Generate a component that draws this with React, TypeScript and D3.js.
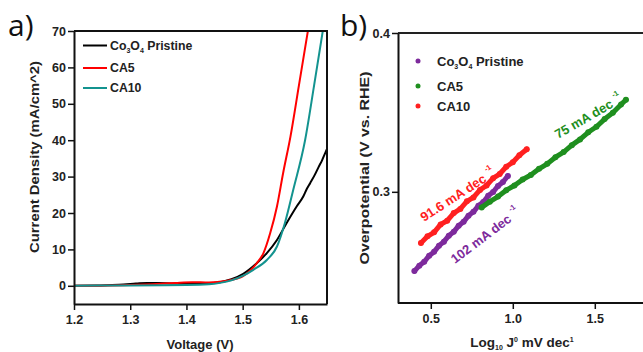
import React, { useRef, useEffect } from 'react';
import * as d3 from 'd3';

// a) LSV curves: [voltage (V), current density (mA/cm^2)]
const pristineLSV: [number, number][] = [
  [1.20, 0], [1.24, 0.05], [1.28, 0.3], [1.31, 0.6], [1.33, 0.8], [1.35, 0.75],
  [1.38, 0.6], [1.41, 0.55], [1.44, 0.7], [1.46, 1.0], [1.48, 1.8], [1.501, 3.3],
  [1.525, 6.2], [1.543, 9.0], [1.561, 12.6], [1.578, 17.2], [1.596, 21.8],
  [1.608, 24.6], [1.614, 26.6], [1.62, 28.2], [1.628, 30.4], [1.635, 32.6],
  [1.641, 34.4], [1.6466, 36.4], [1.65, 37.6],
];
const ca5LSV: [number, number][] = [
  [1.20, 0], [1.26, 0.05], [1.30, 0.2], [1.34, 0.45], [1.38, 0.8], [1.41, 1.0],
  [1.44, 0.9], [1.47, 1.3], [1.49, 2.0], [1.50, 2.6], [1.515, 4.4], [1.525, 6.2],
  [1.537, 9.0], [1.549, 14.5], [1.561, 21.8], [1.572, 31], [1.585, 41],
  [1.60, 55], [1.616, 70],
];
const ca10LSV: [number, number][] = [
  [1.20, 0], [1.30, 0.1], [1.40, 0.2], [1.44, 0.4], [1.46, 0.8], [1.48, 1.5],
  [1.501, 2.8], [1.519, 4.4], [1.543, 7.1], [1.561, 10.8], [1.575, 17.2],
  [1.59, 26.4], [1.611, 40], [1.627, 55], [1.6425, 70],
];
const voltageTicks = [1.2, 1.3, 1.4, 1.5, 1.6];
const currentTicks = [0, 10, 20, 30, 40, 50, 60, 70];

// b) Tafel plots: [log10 J, overpotential (V)]
const pristineTafel: [number, number][] = [
  [0.40, 0.2501], [0.43, 0.2535], [0.46, 0.2560], [0.49, 0.2598], [0.52, 0.2622],
  [0.55, 0.2661], [0.58, 0.2686], [0.61, 0.2724], [0.64, 0.2748], [0.67, 0.2787],
  [0.70, 0.2811], [0.73, 0.2850], [0.76, 0.2874], [0.79, 0.2912], [0.82, 0.2936],
  [0.85, 0.2975], [0.88, 0.2999], [0.91, 0.3037], [0.94, 0.3062], [0.97, 0.3100],
];
const ca5Tafel: [number, number][] = [
  [0.81, 0.2902], [0.86, 0.2938], [0.91, 0.2970], [0.96, 0.3010], [1.01, 0.3040],
  [1.06, 0.3078], [1.11, 0.3106], [1.16, 0.3145], [1.21, 0.3176], [1.26, 0.3218],
  [1.31, 0.3250], [1.36, 0.3294], [1.41, 0.3330], [1.46, 0.3375], [1.51, 0.3410],
  [1.56, 0.3458], [1.61, 0.3498], [1.66, 0.3550], [1.69, 0.3580],
];
const ca10Tafel: [number, number][] = [
  [0.44, 0.2678], [0.48, 0.2720], [0.52, 0.2745], [0.56, 0.2795], [0.60, 0.2818],
  [0.64, 0.2866], [0.68, 0.2892], [0.72, 0.2940], [0.76, 0.2965], [0.80, 0.3012],
  [0.84, 0.3040], [0.88, 0.3086], [0.92, 0.3112], [0.96, 0.3158], [1.00, 0.3186],
  [1.04, 0.3230], [1.085, 0.3268],
];
const logJTicks = [0.5, 1.0, 1.5];
const etaTicks = [0.3, 0.4];

const FONT = '"Liberation Sans", Arial, sans-serif';

const App = () => {
  const svgRef = useRef<SVGSVGElement>(null);

  useEffect(() => {
    const width = 643;
    const height = 352;
    const svg = d3.select(svgRef.current);
    svg.selectAll('*').remove();
    svg.attr('width', width).attr('height', height).attr('viewBox', [0, 0, width, height])
      .style('font-family', FONT);

    svg.append('rect').attr('width', width).attr('height', height).attr('fill', 'white');

    const styleAxis = (g: any) => {
      g.select('.domain').attr('stroke', '#111').attr('stroke-width', 2);
      g.selectAll('.tick line').attr('stroke', '#111').attr('stroke-width', 1.5);
      g.selectAll('text').attr('fill', '#222').attr('font-weight', 'bold')
        .attr('font-size', 12.5).attr('font-family', FONT);
    };

    const legendLabel = (t: any, name: string) => {
      if (name.startsWith('Co')) {
        t.append('tspan').text('Co');
        t.append('tspan').text('3').attr('font-size', 7).attr('dy', 3);
        t.append('tspan').text('O').attr('dy', -3);
        t.append('tspan').text('4').attr('font-size', 7).attr('dy', 3);
        t.append('tspan').text(' Pristine').attr('dy', -3);
      } else {
        t.text(name);
      }
    };

    // ---------- panel a ----------
    const ax = d3.scaleLinear().domain([1.2, 1.65]).range([74, 327]);
    const ay = d3.scaleLinear().domain([-5, 70]).range([304, 31]);

    svg.append('defs').append('clipPath').attr('id', 'clipA')
      .append('rect').attr('x', 74).attr('y', 31).attr('width', 253).attr('height', 273);

    const lsv = [
      { name: 'Co3O4 Pristine', color: '#000000', data: pristineLSV },
      { name: 'CA5', color: '#ff0000', data: ca5LSV },
      { name: 'CA10', color: '#13938f', data: ca10LSV },
    ];

    const lineA = d3.line<[number, number]>()
      .x(d => ax(d[0])).y(d => ay(d[1])).curve(d3.curveMonotoneX);

    svg.append('g').attr('clip-path', 'url(#clipA)').attr('fill', 'none')
      .selectAll('path')
      .data([lsv[0], lsv[1], lsv[2]])
      .join('path')
      .attr('stroke', d => d.color)
      .attr('stroke-width', 2)
      .attr('stroke-linejoin', 'round')
      .attr('d', d => lineA(d.data));

    // frame top / right
    svg.append('path').attr('fill', 'none').attr('stroke', '#111').attr('stroke-width', 2)
      .attr('d', `M${ax(1.2)},${ay(70)}H${ax(1.65)}V${ay(-5)}`);

    svg.append('g').attr('transform', `translate(0,${ay(-5)})`)
      .call(d3.axisBottom(ax).tickValues(voltageTicks).tickFormat(d3.format('.1f'))
        .tickSize(6).tickPadding(5).tickSizeOuter(0))
      .call(styleAxis);

    svg.append('g').attr('transform', `translate(${ax(1.2)},0)`)
      .call(d3.axisLeft(ay).tickValues(currentTicks).tickSize(6).tickPadding(2).tickSizeOuter(0))
      .call(styleAxis);

    const legA = svg.append('g');
    lsv.forEach((s, i) => {
      const y = [45.5, 68, 88][i];
      legA.append('line').attr('x1', 83).attr('x2', 107).attr('y1', y).attr('y2', y)
        .attr('stroke', s.color).attr('stroke-width', 2);
      const t = legA.append('text').attr('x', 110).attr('y', y + 4)
        .attr('font-size', 12.3).attr('font-weight', 'bold').attr('fill', '#222');
      legendLabel(t, s.name);
    });

    svg.append('text').attr('x', 200).attr('y', 349).attr('text-anchor', 'middle')
      .attr('font-size', 13).attr('font-weight', 'bold').attr('fill', '#222')
      .text('Voltage (V)');
    svg.append('text').attr('transform', 'translate(39,157) rotate(-90)')
      .attr('text-anchor', 'middle').attr('font-size', 13.5).attr('font-weight', 'bold')
      .attr('textLength', 192).attr('lengthAdjust', 'spacingAndGlyphs')
      .attr('fill', '#222').text('Current Density (mA/cm^2)');

    svg.append('text').attr('x', 8).attr('y', 36).attr('font-size', 30)
      .attr('font-family', '"Open Sans", sans-serif').attr('fill', '#111').text('a)');

    // ---------- panel b ----------
    const bx = d3.scaleLinear().domain([0.3, 1.8]).range([398, 644]);
    const by = d3.scaleLinear().domain([0.23, 0.4]).range([303, 33]);

    const tafel = [
      { name: 'Co3O4 Pristine', color: '#7d2a9c', data: pristineTafel },
      { name: 'CA5', color: '#1f8f1f', data: ca5Tafel },
      { name: 'CA10', color: '#ff2020', data: ca10Tafel },
    ];

    const lineB = d3.line<[number, number]>().x(d => bx(d[0])).y(d => by(d[1]));

    const series = svg.append('g').selectAll('g')
      .data([tafel[2], tafel[0], tafel[1]])
      .join('g');
    series.append('path')
      .attr('fill', 'none')
      .attr('stroke', d => d.color)
      .attr('stroke-width', 5)
      .attr('stroke-linecap', 'round')
      .attr('stroke-linejoin', 'round')
      .attr('d', d => lineB(d.data));
    series.selectAll('circle')
      .data(d => d.data.map(p => ({ p, color: d.color })))
      .join('circle')
      .attr('cx', d => bx(d.p[0]))
      .attr('cy', d => by(d.p[1]))
      .attr('r', 3)
      .attr('fill', d => d.color);

    svg.append('path').attr('fill', 'none').attr('stroke', '#222').attr('stroke-width', 2)
      .attr('d', `M${bx(0.3)},${by(0.4)}H${width + 5}`);

    svg.append('g').attr('transform', `translate(0,${by(0.23)})`)
      .call(d3.axisBottom(bx).tickValues(logJTicks).tickFormat(d3.format('.1f'))
        .tickSize(6).tickPadding(5).tickSizeOuter(0))
      .call(styleAxis)
      .call(g => g.select('.domain').attr('d', `M${bx(0.3)},0H${width + 5}`));

    svg.append('g').attr('transform', `translate(${bx(0.3)},0)`)
      .call(d3.axisLeft(by).tickValues(etaTicks).tickFormat(d3.format('.1f'))
        .tickSize(6).tickPadding(2).tickSizeOuter(0))
      .call(styleAxis);

    const legB = svg.append('g');
    tafel.forEach((s, i) => {
      const y = [61, 86, 106][i];
      legB.append('circle').attr('cx', 418).attr('cy', y).attr('r', 2.5).attr('fill', s.color);
      const t = legB.append('text').attr('x', 437).attr('y', y + 4.5)
        .attr('font-size', 13).attr('font-weight', 'bold').attr('fill', '#222');
      legendLabel(t, s.name);
    });

    const notes = [
      { text: '91.6 mA dec', color: '#ff2020', x: 424, y: 222, angle: -33 },
      { text: '102 mA dec', color: '#7d2a9c', x: 455, y: 264, angle: -37 },
      { text: '75 mA dec', color: '#1f8f1f', x: 558, y: 139, angle: -30 },
    ];
    notes.forEach(n => {
      const t = svg.append('text')
        .attr('transform', `translate(${n.x},${n.y}) rotate(${n.angle})`)
        .attr('font-size', 13).attr('font-weight', 'bold').attr('fill', n.color);
      t.append('tspan').text(n.text);
      t.append('tspan').text('-1').attr('font-size', 7.5).attr('dx', 4).attr('dy', -8);
    });

    const xl = svg.append('text').attr('x', 522).attr('y', 347).attr('text-anchor', 'middle')
      .attr('font-size', 13.5).attr('font-weight', 'bold').attr('fill', '#222');
    xl.append('tspan').text('Log');
    xl.append('tspan').text('10').attr('font-size', 7).attr('dy', 3);
    xl.append('tspan').text(' J').attr('dy', -3);
    xl.append('tspan').text('0').attr('font-size', 7).attr('dy', -5);
    xl.append('tspan').text(' mV dec').attr('dy', 5);
    xl.append('tspan').text('1').attr('font-size', 7).attr('dy', -5);

    svg.append('text').attr('transform', 'translate(369,168) rotate(-90)')
      .attr('text-anchor', 'middle').attr('font-size', 13.5).attr('font-weight', 'bold')
      .attr('textLength', 193).attr('lengthAdjust', 'spacingAndGlyphs')
      .attr('fill', '#222').text('Overpotential (V vs. RHE)');

    svg.append('text').attr('x', 340).attr('y', 36).attr('font-size', 30)
      .attr('font-family', '"Open Sans", sans-serif').attr('fill', '#111').text('b)');
  }, []);

  return (
    <div style={{ position: 'absolute', left: 0, top: 0 }}>
      <svg ref={svgRef} style={{ display: 'block' }}></svg>
    </div>
  );
};

export default App;
